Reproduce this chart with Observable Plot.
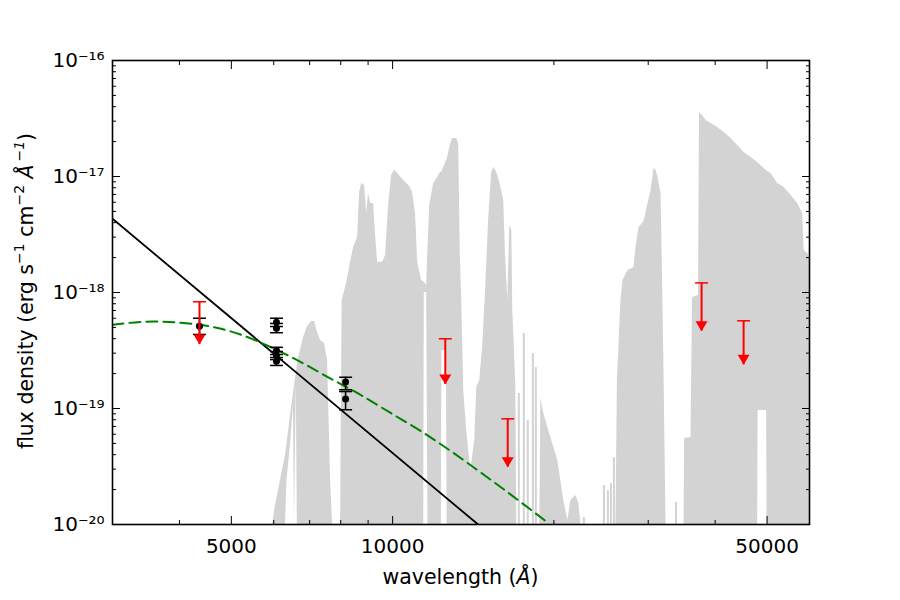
<!DOCTYPE html>
<html>
<head>
<meta charset="utf-8">
<script src="https://cdn.jsdelivr.net/npm/d3@7"></script>
<script src="https://cdn.jsdelivr.net/npm/@observablehq/plot@0.6"></script>
<style>
  html, body { margin: 0; padding: 0; background: #fff; }
  #chart { width: 900px; height: 600px; }
</style>
</head>
<body>
<div id="chart"></div>
<script>
// ---- photometric detections (wavelength in Å, flux density in erg s^-1 cm^-2 Å^-1)
const detWave = [4360, 6070, 6070, 6070, 6070, 6070, 8170, 8170];
const detFlux = [5.12e-19, 5.55e-19, 4.92e-19, 3.16e-19, 2.86e-19, 2.56e-19, 1.69e-19, 1.21e-19];
const detHigh = [6.00e-19, 6.00e-19, 5.41e-19, 3.37e-19, 3.10e-19, 2.75e-19, 1.86e-19, 1.40e-19];
const detLow  = [4.35e-19, 5.09e-19, 4.50e-19, 2.92e-19, 2.64e-19, 2.35e-19, 1.45e-19, 9.75e-20];

// ---- upper limits: limit value and where the arrow ends
const limWave  = [4360, 12540, 16400, 37730, 45200];
const limFlux  = [8.32e-19, 3.99e-19, 8.15e-20, 1.21e-18, 5.70e-19];
const limArrow = [3.56e-19, 1.61e-19, 3.12e-20, 4.64e-19, 2.38e-19];

// ---- power-law fit (straight in log-log)
const plWave = [3000, 14440];
const plFlux = [4.32e-18, 1.0e-20];

// ---- blackbody fit
const bbWave = [3000, 3575, 4068, 4668, 5199, 5916, 6730, 7660, 8713, 9914, 11280, 12834, 14603, 16617, 19569];
const bbFlux = [5.27e-19, 5.62e-19, 5.46e-19, 4.99e-19, 4.34e-19, 3.39e-19, 2.52e-19, 1.81e-19, 1.31e-19,
                9.15e-20, 6.40e-20, 4.30e-20, 2.81e-20, 1.81e-20, 1.02e-20];

// ---- model atmosphere spectrum: upper and lower envelope of the dense spectrum
const specWave = [
  5970, 6044, 6176, 6310, 6350, 6447, 6530, 6559, 6610, 6640, 6674, 6818, 6937, 7058, 7150, 7243, 7337, 7465,
  7562, 7611, 7660, 7728,
  7997, 8049, 8204, 8347, 8455, 8603, 8677, 8753, 8867, 8943, 9018, 9097, 9215, 9294, 9376, 9578, 9703, 9829,
  9957, 10086, 10217, 10485, 10760, 10899, 11041, 11136, 11328, 11430, 11460, 11576, 11640, 11726, 11930, 12295,
  12330, 12360, 12600,
  12640, 12836, 12946, 13170, 13285, 13370, 13459, 13575, 13751, 13992, 14236, 14355, 14541, 14730, 14921, 15115,
  15311, 15446, 15647, 15849, 16125, 16230, 16406, 16548, 16690, 16762, 16977, 17050,
  18829, 18910, 19146, 19736, 20341, 20873, 21236, 21512, 21982, 22267, 22458,
  26111, 26280, 26683, 26913, 27500, 28218, 28460, 28836, 29466, 29973, 30363, 30760, 31023, 31290, 31696, 31901,
  32108, 32387,
  34996, 35076, 36058, 36291, 37239, 37400, 37888, 38459, 39300, 40413, 41563, 42837, 44049, 45300, 46690, 48011,
  48110, 49380, 49900, 50000, 50880, 52330, 53810, 55460, 57030, 58270, 58650, 59550, 60000
];
const specHigh = [
  1.0e-20, 1.46e-20, 2.39e-20, 3.94e-20, 4.9e-20, 8.71e-20, 1.35e-19, 1.58e-19, 2.0e-19, 2.35e-19, 2.70e-19,
  4.09e-19, 5.09e-19, 5.62e-19, 5.62e-19, 4.52e-19, 3.85e-19, 3.63e-19,
  2.59e-19, 7.88e-20, 2.39e-20, 1.0e-20,
  1.0e-20, 8.53e-19, 1.20e-18, 1.82e-18, 2.44e-18, 2.98e-18, 7.28e-18, 8.71e-18, 8.36e-18, 4.80e-18, 7.13e-18,
  5.85e-18, 5.85e-18, 3.10e-18, 1.82e-18, 1.82e-18, 2.08e-18, 5.62e-18,
  1.02e-17, 1.13e-17, 1.06e-17, 9.25e-18, 8.20e-18, 7.28e-18, 4.61e-18, 1.82e-18, 1.27e-18, 1.24e-18, 1.22e-18,
  1.15e-18, 2.39e-18, 5.62e-18, 8.71e-18, 1.08e-17,
  1.09e-17, 1.10e-17, 1.36e-17,
  1.40e-17, 1.92e-17, 2.13e-17, 2.13e-17, 1.92e-17, 2.30e-18, 8.53e-19, 1.43e-19, 6.46e-20, 2.92e-20, 5.30e-20,
  1.52e-19, 1.74e-19, 3.49e-19, 1.10e-18, 4.43e-18,
  1.08e-17, 1.20e-17, 1.08e-17, 8.87e-18, 6.21e-18, 2.30e-18, 8.53e-19, 3.78e-18, 3.42e-18, 7.00e-19, 1.64e-19,
  1.0e-20,
  1.0e-20, 1.24e-19, 9.06e-20, 5.62e-20, 3.56e-20, 1.61e-20, 1.08e-20, 1.61e-20, 1.78e-20, 1.52e-20, 1.0e-20,
  1.0e-20, 1.74e-19, 8.53e-19, 1.27e-18, 1.55e-18, 1.64e-18, 2.44e-18, 3.63e-18, 4.09e-18, 5.85e-18, 7.57e-18,
  1.17e-17, 1.13e-17, 9.80e-18, 7.13e-18, 1.35e-18,
  2.00e-19, 1.0e-20,
  1.0e-20, 5.51e-20, 5.62e-20, 9.06e-19, 9.42e-19, 3.56e-17, 3.36e-17, 3.04e-17, 2.86e-17, 2.64e-17, 2.39e-17,
  2.13e-17, 1.85e-17, 1.61e-17, 1.46e-17, 1.32e-17,
  1.31e-17, 1.17e-17, 1.12e-17, 1.11e-17, 1.06e-17, 8.71e-18, 8.04e-18, 6.85e-18, 5.85e-18, 4.80e-18, 2.30e-18,
  2.17e-18, 2.00e-18
];
const specLow = specWave.map(() => 1.0e-20);
// windows where the spectrum stays above the bottom of the plot
const gapWave = [6350, 6447, 6530, 6610, 11460, 11576, 12360, 12600, 48110, 49380, 49900];
const gapLow  = [2.39e-20, 4.9e-20, 1.05e-19, 1.65e-19, 1.0e-18, 1.0e-18, 3.16e-19, 3.16e-19,
                 9.62e-20, 9.62e-20, 9.62e-20];

// isolated narrow features
const spikeWave = [17200, 17575, 17878, 18269, 18506, 22751, 24797, 25229, 25556, 25888, 33806];
const spikeFlux = [1.35e-19, 4.43e-19, 7.88e-20, 2.98e-19, 2.25e-19, 1.15e-20, 2.17e-20, 1.96e-20,
                   2.25e-20, 3.78e-20, 1.55e-20];

// ---- axes
const xDomain = [3000, 60000];
const yDomain = [1e-20, 1e-16];
const xMajor = [5000, 10000, 50000];
const xMinor = [4000, 6000, 7000, 8000, 9000, 20000, 30000, 40000];
const yMajor = [1e-20, 1e-19, 1e-18, 1e-17, 1e-16];
const yMinor = yMajor.slice(0, -1).flatMap(d => [2, 3, 4, 5, 6, 7, 8, 9].map(k => k * d));
const fluxFloor = yDomain[0];

// ---- tables for the marks
gapWave.forEach((w, i) => { specLow[specWave.indexOf(w)] = gapLow[i]; });
const spectrum = specWave.map((w, i) => ({w, hi: specHigh[i], lo: specLow[i]}));
const spikes = spikeWave.map((w, i) => ({w, f: spikeFlux[i]}));
const powerLaw = plWave.map((w, i) => ({w, f: plFlux[i]}));
const blackbody = bbWave.map((w, i) => ({w, f: bbFlux[i]}));
const detections = detWave.map((w, i) => ({w, f: detFlux[i], hi: detHigh[i], lo: detLow[i]}));
const limits = limWave.map((w, i) => ({w, f: limFlux[i], tip: limArrow[i]}));

// error-bar cap and downward arrow head
const capSymbol = {draw(ctx) { ctx.moveTo(-6.5, 0); ctx.lineTo(6.5, 0); }};
const arrowHead = {draw(ctx) { ctx.moveTo(0, 0); ctx.lineTo(-6, -10); ctx.lineTo(6, -10); ctx.closePath(); }};

const supChars = {"-": "\u207B", "0": "\u2070", "1": "\u00B9", "2": "\u00B2", "3": "\u00B3", "4": "\u2074",
                  "5": "\u2075", "6": "\u2076", "7": "\u2077", "8": "\u2078", "9": "\u2079"};
const powerLabel = d => "10" + String(Math.round(Math.log10(d))).replace(/./g, c => supChars[c]);

const tickStyle = {stroke: "black", strokeWidth: 1, label: null, tickFormat: () => ""};

const plot = Plot.plot({
  width: 900,
  height: 600,
  marginLeft: 112,
  marginRight: 91,
  marginTop: 60,
  marginBottom: 76,
  style: {fontFamily: "'DejaVu Sans', sans-serif", fontSize: "20px", background: "#fff", color: "#000"},
  x: {type: "log", domain: xDomain},
  y: {type: "log", domain: yDomain},
  marks: [
    Plot.areaY(spectrum, {x: "w", y1: "lo", y2: "hi", fill: "#d3d3d3", clip: true}),
    Plot.ruleX(spikes, {x: "w", y1: fluxFloor, y2: "f", stroke: "#d3d3d3", strokeWidth: 2, clip: true}),
    Plot.line(powerLaw, {x: "w", y: "f", stroke: "black", strokeWidth: 1.8, clip: true}),
    Plot.line(blackbody, {x: "w", y: "f", stroke: "#008000", strokeWidth: 2, strokeDasharray: "11,6",
                          curve: "monotone-x", clip: true}),
    Plot.ruleX(detections, {x: "w", y1: "lo", y2: "hi", stroke: "black", strokeWidth: 1.5}),
    Plot.dot(detections, {x: "w", y: "hi", symbol: capSymbol, stroke: "black", fill: "none", strokeWidth: 1.5}),
    Plot.dot(detections, {x: "w", y: "lo", symbol: capSymbol, stroke: "black", fill: "none", strokeWidth: 1.5}),
    Plot.dot(detections, {x: "w", y: "f", r: 3.5, fill: "black", stroke: "none"}),
    Plot.ruleX(limits, {x: "w", y1: "tip", y2: "f", stroke: "red", strokeWidth: 2}),
    Plot.dot(limits, {x: "w", y: "f", symbol: capSymbol, stroke: "red", fill: "none", strokeWidth: 1.5}),
    Plot.dot(limits, {x: "w", y: "tip", symbol: arrowHead, fill: "red", stroke: "none"}),
    Plot.frame({stroke: "black", strokeWidth: 1.6}),
    // inward ticks on all four sides
    Plot.axisX(xMajor, {anchor: "bottom", tickSize: -8, ...tickStyle}),
    Plot.axisX(xMajor, {anchor: "top", tickSize: -8, ...tickStyle}),
    Plot.axisX(xMinor, {anchor: "bottom", tickSize: -4, ...tickStyle}),
    Plot.axisX(xMinor, {anchor: "top", tickSize: -4, ...tickStyle}),
    Plot.axisY(yMajor, {anchor: "left", tickSize: -8, ...tickStyle}),
    Plot.axisY(yMajor, {anchor: "right", tickSize: -8, ...tickStyle}),
    Plot.axisY(yMinor, {anchor: "left", tickSize: -4, ...tickStyle}),
    Plot.axisY(yMinor, {anchor: "right", tickSize: -4, ...tickStyle}),
    // tick labels
    Plot.axisX(xMajor, {anchor: "bottom", tickSize: 0, tickPadding: 14, label: null, tickFormat: d => String(d)}),
    Plot.axisY(yMajor, {anchor: "left", tickSize: 0, tickPadding: 8, label: null, tickFormat: powerLabel})
  ]
});

document.getElementById("chart").appendChild(plot);

// axis titles with superscripts and the italic Ångström sign
const svg = d3.select(plot);
const font = "'DejaVu Sans', sans-serif";

const xt = svg.append("text")
  .attr("x", 460.5).attr("y", 584)
  .attr("text-anchor", "middle")
  .attr("font-family", font).attr("font-size", 20.5).attr("fill", "black");
xt.append("tspan").text("wavelength (");
xt.append("tspan").attr("font-style", "italic").text("\u00C5");
xt.append("tspan").text(")");

const yt = svg.append("text")
  .attr("transform", "translate(33,291) rotate(-90)")
  .attr("text-anchor", "middle")
  .attr("font-family", font).attr("font-size", 20.5).attr("fill", "black");
const parts = [
  ["flux density (erg s", null, false],
  ["\u22121", "sup", false],
  [" cm", null, false],
  ["\u22122", "sup", false],
  [" ", null, false],
  ["\u00C5", null, true],
  ["\u2009\u22121", "sup", true],
  [")", null, false]
];
let raised = false;
for (const [t, kind, italic] of parts) {
  const ts = yt.append("tspan").text(t);
  if (italic) ts.attr("font-style", "italic");
  if (kind === "sup") {
    ts.attr("font-size", 14).attr("dy", raised ? 0 : -9);
    raised = true;
  } else if (raised) {
    ts.attr("dy", 9);
    raised = false;
  }
}
</script>
</body>
</html>
